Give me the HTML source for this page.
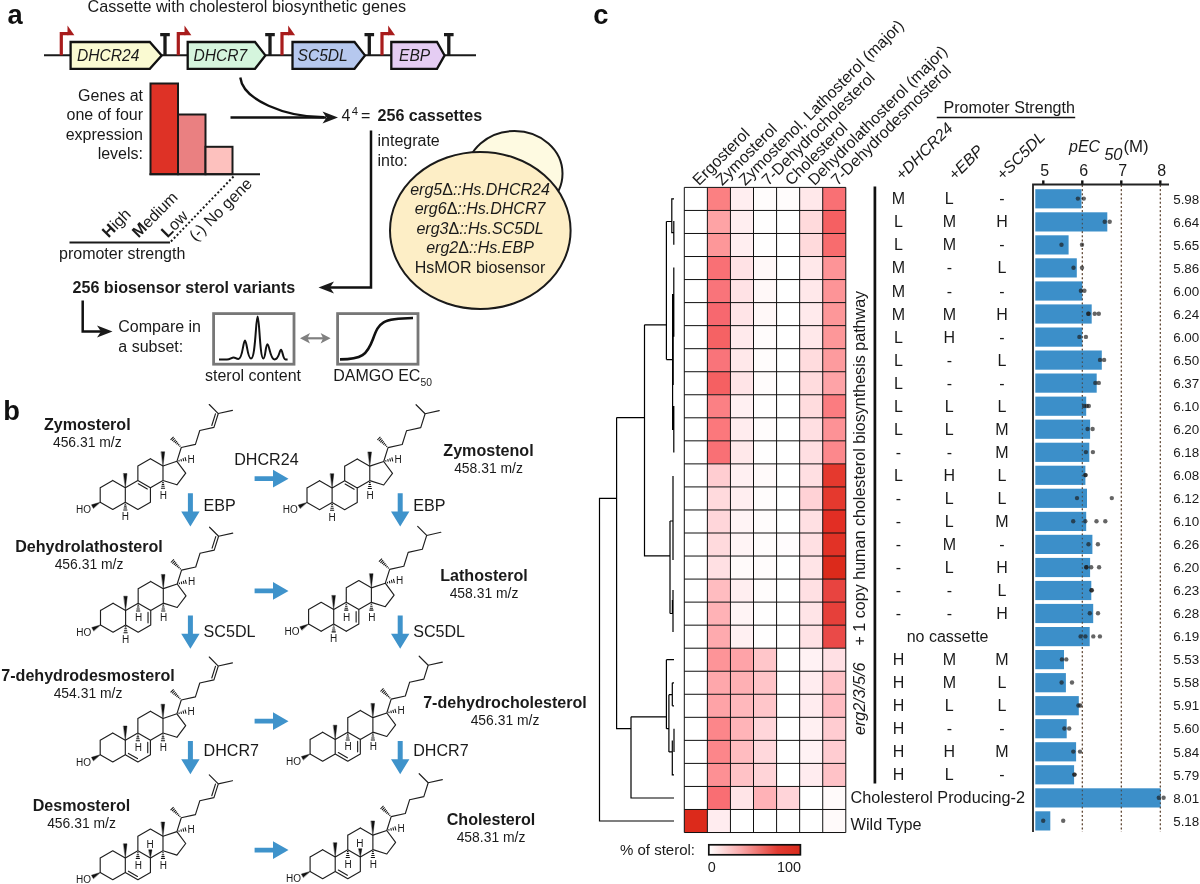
<!DOCTYPE html>
<html lang="en"><head><meta charset="utf-8"><title>Sterol biosensor figure</title>
<style>
html,body{margin:0;padding:0;background:#fff;}
body{width:1200px;height:884px;overflow:hidden;font-family:"Liberation Sans", sans-serif;}
svg{display:block;font-family:"Liberation Sans", sans-serif;}
</style></head><body>
<svg width="1200" height="884" viewBox="0 0 1200 884">
<rect width="1200" height="884" fill="#ffffff"/>
<g id="panel-a">
<text x="7.6" y="24.3" font-size="27.3" font-weight="bold" fill="#111">a</text>
<text x="87.5" y="12.4" font-size="16.2" fill="#1a1a1a">Cassette with cholesterol biosynthetic genes</text>
<line x1="44" y1="55.3" x2="476" y2="55.3" stroke="#1a1a1a" stroke-width="1.9"/>
<path d="M61.3 55.3 V33.6 H68.3" fill="none" stroke="#a81c1c" stroke-width="3.2"/>
<path d="M67.5 25.6 L74.39999999999999 35.2 L67.5 35.2 Z" fill="#a81c1c"/>
<path d="M178.3 55.3 V33.6 H185.3" fill="none" stroke="#a81c1c" stroke-width="3.2"/>
<path d="M184.5 25.6 L191.4 35.2 L184.5 35.2 Z" fill="#a81c1c"/>
<path d="M282 55.3 V33.6 H289" fill="none" stroke="#a81c1c" stroke-width="3.2"/>
<path d="M288.2 25.6 L295.1 35.2 L288.2 35.2 Z" fill="#a81c1c"/>
<path d="M382 55.3 V33.6 H389" fill="none" stroke="#a81c1c" stroke-width="3.2"/>
<path d="M388.2 25.6 L395.1 35.2 L388.2 35.2 Z" fill="#a81c1c"/>
<path d="M165 55.3 V34.6 M160.2 34.6 H169.8" fill="none" stroke="#1a1a1a" stroke-width="3.3"/>
<path d="M270 55.3 V34.6 M265.2 34.6 H274.8" fill="none" stroke="#1a1a1a" stroke-width="3.3"/>
<path d="M369.3 55.3 V34.6 M364.5 34.6 H374.1" fill="none" stroke="#1a1a1a" stroke-width="3.3"/>
<path d="M448.8 55.3 V34.6 M444.0 34.6 H453.6" fill="none" stroke="#1a1a1a" stroke-width="3.3"/>
<path d="M70.6 42 H149.8 L161.7 55.4 L149.8 68.8 H70.6 Z" fill="#fafad2" stroke="#111" stroke-width="2.3" stroke-linejoin="miter"/>
<text x="77" y="60.8" font-size="15.6" font-style="italic" fill="#1a1a1a">DHCR24</text>
<path d="M187.7 42 H255 L265.4 55.4 L255 68.8 H187.7 Z" fill="#d5f5dd" stroke="#111" stroke-width="2.3" stroke-linejoin="miter"/>
<text x="193.5" y="60.8" font-size="15.6" font-style="italic" fill="#1a1a1a">DHCR7</text>
<path d="M292.5 42 H354.5 L365 55.4 L354.5 68.8 H292.5 Z" fill="#b6c8ee" stroke="#111" stroke-width="2.3" stroke-linejoin="miter"/>
<text x="297.5" y="60.8" font-size="15.6" font-style="italic" fill="#1a1a1a">SC5DL</text>
<path d="M391.3 42 H437 L444.6 55.4 L437 68.8 H391.3 Z" fill="#e5cdf3" stroke="#111" stroke-width="2.3" stroke-linejoin="miter"/>
<text x="399" y="60.8" font-size="15.6" font-style="italic" fill="#1a1a1a">EBP</text>
<rect x="150.5" y="83.5" width="27.5" height="90.7" fill="#de3226" stroke="#1a1a1a" stroke-width="2"/>
<rect x="178" y="114.5" width="27.5" height="59.7" fill="#ea8081" stroke="#1a1a1a" stroke-width="2"/>
<rect x="205.5" y="146.8" width="27" height="27.4" fill="#fdc1be" stroke="#1a1a1a" stroke-width="2"/>
<line x1="149.5" y1="174.2" x2="260" y2="174.2" stroke="#1a1a1a" stroke-width="2"/>
<text x="143" y="100.5" font-size="16" text-anchor="end" fill="#1a1a1a">Genes at</text>
<text x="143" y="120.1" font-size="16" text-anchor="end" fill="#1a1a1a">one of four</text>
<text x="143" y="139.7" font-size="16" text-anchor="end" fill="#1a1a1a">expression</text>
<text x="143" y="159.3" font-size="16" text-anchor="end" fill="#1a1a1a">levels:</text>
<line x1="233.5" y1="176.5" x2="170" y2="242.5" stroke="#1a1a1a" stroke-width="2" stroke-dasharray="2 2.2"/>
<line x1="69.5" y1="242.5" x2="170" y2="242.5" stroke="#1a1a1a" stroke-width="2"/>
<text x="59" y="259" font-size="16" fill="#1a1a1a">promoter strength</text>
<text x="108.5" y="238.5" font-size="16" fill="#1a1a1a" transform="rotate(-45 108.5 238.5)"><tspan font-weight="bold">H</tspan>igh</text>
<text x="138.5" y="238.5" font-size="16" fill="#1a1a1a" transform="rotate(-45 138.5 238.5)"><tspan font-weight="bold">M</tspan>edium</text>
<text x="167.5" y="238.5" font-size="16" fill="#1a1a1a" transform="rotate(-45 167.5 238.5)"><tspan font-weight="bold">L</tspan>ow</text>
<text x="195.8" y="242" font-size="16" fill="#1a1a1a" transform="rotate(-45 195.8 242)">(-) No gene</text>
<path d="M230.5 117.5 H326" fill="none" stroke="#111" stroke-width="2.4"/>
<path d="M240.3 77.5 C243 100 285 117 324 117.3" fill="none" stroke="#111" stroke-width="2.4"/>
<path d="M338 117.5 L322.5 111.5 L326.5 117.5 L322.5 123.5 Z" fill="#1a1a1a"/>
<text x="341.5" y="121" font-size="16" fill="#1a1a1a">4<tspan font-size="11.3" dx="1.3" dy="-6.3">4</tspan><tspan dy="6.3" dx="3">=</tspan></text>
<text x="377.5" y="121" font-size="16.1" font-weight="bold" fill="#1a1a1a">256 cassettes</text>
<path d="M371 130.5 V287.5 H330" fill="none" stroke="#111" stroke-width="2.5"/>
<path d="M318.5 287.5 L334 281.5 L330 287.5 L334 293.5 Z" fill="#1a1a1a"/>
<text x="377.5" y="145.8" font-size="16" fill="#1a1a1a">integrate</text>
<text x="377.5" y="165.8" font-size="16" fill="#1a1a1a">into:</text>
<ellipse cx="514.5" cy="173.5" rx="48" ry="42.5" fill="#fefae1" stroke="#1a1a1a" stroke-width="2"/>
<ellipse cx="480.3" cy="230.5" rx="90.3" ry="78.5" fill="#fdeec6" stroke="#1a1a1a" stroke-width="2"/>
<text x="480" y="194.8" font-size="16" text-anchor="middle" fill="#1a1a1a" font-style="italic">erg5<tspan font-style="normal">Δ</tspan>::Hs.DHCR24</text>
<text x="480" y="214.3" font-size="16" text-anchor="middle" fill="#1a1a1a" font-style="italic">erg6<tspan font-style="normal">Δ</tspan>::Hs.DHCR7</text>
<text x="480" y="233.8" font-size="16" text-anchor="middle" fill="#1a1a1a" font-style="italic">erg3<tspan font-style="normal">Δ</tspan>::Hs.SC5DL</text>
<text x="480" y="253.3" font-size="16" text-anchor="middle" fill="#1a1a1a" font-style="italic">erg2<tspan font-style="normal">Δ</tspan>::Hs.EBP</text>
<text x="480" y="272.8" font-size="16" text-anchor="middle" fill="#1a1a1a">HsMOR biosensor</text>
<text x="72.5" y="293" font-size="16.1" font-weight="bold" fill="#1a1a1a">256 biosensor sterol variants</text>
<path d="M82.7 300.5 V331.5 H101" fill="none" stroke="#111" stroke-width="2.5"/>
<path d="M112.5 331.5 L97 325.5 L101 331.5 L97 337.5 Z" fill="#1a1a1a"/>
<text x="118.3" y="332" font-size="16" fill="#1a1a1a">Compare in</text>
<text x="118.3" y="352" font-size="16" fill="#1a1a1a">a subset:</text>
<rect x="213.6" y="313.6" width="80.4" height="50.6" fill="#fff" stroke="#777" stroke-width="2.8"/>
<rect x="337.6" y="313.6" width="80.4" height="50.6" fill="#fff" stroke="#777" stroke-width="2.8"/>
<path d="M219 359.6 H227 C230 359.6 231.5 357.4 233.6 357.4 C235.5 357.4 236 359 238.5 359 C242.6 359 243.2 340.4 245 340.4 C246.8 340.4 247.4 358.6 251 358.6 C255.6 358.6 255.8 316.6 257.6 316.6 C259.4 316.6 259.8 358.6 263.4 358.6 C265.5 358.6 265.6 344.2 267.4 344.2 C269.4 344.2 270 359.4 274.5 359.4 C279.2 359.4 279.4 349.8 281 349.8 C282.6 349.8 282.9 359.4 285.5 359.4 H287.6" fill="none" stroke="#111" stroke-width="2" stroke-linejoin="round"/>
<path d="M340 359.4 C362 359.4 367 355 373 339 C379 322 382 318.4 413 318" fill="none" stroke="#111" stroke-width="2.6"/>
<path d="M304 338.3 H326" stroke="#808080" stroke-width="2.2" fill="none"/>
<path d="M300 338.3 L310 333 L307.5 338.3 L310 343.6 Z M330.6 338.3 L320.6 333 L323.1 338.3 L320.6 343.6 Z" fill="#808080"/>
<text x="205" y="381" font-size="16" fill="#1a1a1a">sterol content</text>
<text x="333.3" y="381" font-size="16" fill="#1a1a1a">DAMGO EC<tspan font-size="10.3" dy="5.2">50</tspan></text>
</g>
<g id="panel-b">
<text x="3.2" y="419.5" font-size="27.3" font-weight="bold" fill="#111">b</text>
<g transform="translate(100.2 502.2)" stroke="#1f1f1f" stroke-width="1.15" stroke-linecap="round" fill="none"><path d="M0.00 0.00L0.00 -14.50M0.00 -14.50L12.56 -21.75M12.56 -21.75L25.11 -14.50M25.11 -14.50L25.11 0.00M25.11 0.00L12.56 7.25M12.56 7.25L0.00 0.00M25.11 -14.50L37.67 -21.75M37.67 -21.75L50.23 -14.50M50.23 -14.50L50.23 0.00M50.23 0.00L37.67 7.25M37.67 7.25L25.11 0.00M37.67 -21.75L37.67 -36.25M37.67 -36.25L50.23 -43.50M50.23 -43.50L62.79 -36.25M62.79 -36.25L62.79 -21.75M62.79 -21.75L50.23 -14.50M62.79 -36.25L76.70 -40.90M76.70 -40.90L85.50 -29.00M85.50 -29.00L76.70 -17.40M76.70 -17.40L62.79 -21.75M76.70 -40.90L81.06 -54.73M81.06 -54.73L95.22 -57.87M95.22 -57.87L99.58 -71.70M99.58 -71.70L113.73 -74.83M113.73 -74.83L118.09 -88.66M118.09 -88.66L109.08 -97.67M118.09 -88.66L132.25 -91.80M38.08 -18.40L47.12 -13.18M111.60 -76.72L115.26 -88.34"/><path d="M25.11 -14.50L26.81 -28.70L23.41 -28.70Z" fill="#111" stroke="#111" stroke-width="0.4" stroke-linejoin="round"/><path d="M62.79 -36.25L64.49 -50.45L61.09 -50.45Z" fill="#111" stroke="#111" stroke-width="0.4" stroke-linejoin="round"/><path d="M0.00 0.00L-8.72 2.64L-6.88 5.96Z" fill="#111" stroke="#111" stroke-width="0.4" stroke-linejoin="round"/><path d="M80.18 -56.47L79.32 -55.61M79.04 -57.97L77.82 -56.74M77.91 -59.46L76.33 -57.88M76.78 -60.96L74.83 -59.01M75.65 -62.45L73.34 -60.14M74.52 -63.95L71.84 -61.27M73.39 -65.44L70.35 -62.40" stroke="#111" stroke-width="1.05" stroke-linecap="butt"/><path d="M79.04 -40.70L78.66 -42.20M81.30 -40.83L80.70 -43.17M83.55 -40.97L82.75 -44.13M85.81 -41.10L84.79 -45.10" stroke="#111" stroke-width="1.05" stroke-linecap="butt"/><text x="91.00" y="-39.70" font-size="10" text-anchor="middle" fill="#1a1a1a" stroke="none">H</text><path d="M24.34 1.95L25.89 1.95M23.91 3.90L26.32 3.90M23.48 5.85L26.75 5.85M23.05 7.80L27.17 7.80" stroke="#111" stroke-width="1.05" stroke-linecap="butt"/><text x="25.11" y="18.30" font-size="10" text-anchor="middle" fill="#1a1a1a" stroke="none">H</text><path d="M62.01 -19.80L63.56 -19.80M61.58 -17.85L63.99 -17.85M61.15 -15.90L64.42 -15.90M60.73 -13.95L64.85 -13.95" stroke="#111" stroke-width="1.05" stroke-linecap="butt"/><text x="63.19" y="-3.45" font-size="10" text-anchor="middle" fill="#1a1a1a" stroke="none">H</text><text x="-9.2" y="10.9" font-size="10" text-anchor="end" fill="#1a1a1a" stroke="none">HO</text></g>
<g transform="translate(307.0 502.4)" stroke="#1f1f1f" stroke-width="1.15" stroke-linecap="round" fill="none"><path d="M0.00 0.00L0.00 -14.50M0.00 -14.50L12.56 -21.75M12.56 -21.75L25.11 -14.50M25.11 -14.50L25.11 0.00M25.11 0.00L12.56 7.25M12.56 7.25L0.00 0.00M25.11 -14.50L37.67 -21.75M37.67 -21.75L50.23 -14.50M50.23 -14.50L50.23 0.00M50.23 0.00L37.67 7.25M37.67 7.25L25.11 0.00M37.67 -21.75L37.67 -36.25M37.67 -36.25L50.23 -43.50M50.23 -43.50L62.79 -36.25M62.79 -36.25L62.79 -21.75M62.79 -21.75L50.23 -14.50M62.79 -36.25L76.70 -40.90M76.70 -40.90L85.50 -29.00M85.50 -29.00L76.70 -17.40M76.70 -17.40L62.79 -21.75M76.70 -40.90L81.06 -54.73M81.06 -54.73L95.22 -57.87M95.22 -57.87L99.58 -71.70M99.58 -71.70L113.73 -74.83M113.73 -74.83L118.09 -88.66M118.09 -88.66L109.08 -97.67M118.09 -88.66L132.25 -91.80M38.08 -18.40L47.12 -13.18"/><path d="M25.11 -14.50L26.81 -28.70L23.41 -28.70Z" fill="#111" stroke="#111" stroke-width="0.4" stroke-linejoin="round"/><path d="M62.79 -36.25L64.49 -50.45L61.09 -50.45Z" fill="#111" stroke="#111" stroke-width="0.4" stroke-linejoin="round"/><path d="M0.00 0.00L-8.72 2.64L-6.88 5.96Z" fill="#111" stroke="#111" stroke-width="0.4" stroke-linejoin="round"/><path d="M80.18 -56.47L79.32 -55.61M79.04 -57.97L77.82 -56.74M77.91 -59.46L76.33 -57.88M76.78 -60.96L74.83 -59.01M75.65 -62.45L73.34 -60.14M74.52 -63.95L71.84 -61.27M73.39 -65.44L70.35 -62.40" stroke="#111" stroke-width="1.05" stroke-linecap="butt"/><path d="M79.04 -40.70L78.66 -42.20M81.30 -40.83L80.70 -43.17M83.55 -40.97L82.75 -44.13M85.81 -41.10L84.79 -45.10" stroke="#111" stroke-width="1.05" stroke-linecap="butt"/><text x="91.00" y="-39.70" font-size="10" text-anchor="middle" fill="#1a1a1a" stroke="none">H</text><path d="M24.34 1.95L25.89 1.95M23.91 3.90L26.32 3.90M23.48 5.85L26.75 5.85M23.05 7.80L27.17 7.80" stroke="#111" stroke-width="1.05" stroke-linecap="butt"/><text x="25.11" y="18.30" font-size="10" text-anchor="middle" fill="#1a1a1a" stroke="none">H</text><path d="M62.01 -19.80L63.56 -19.80M61.58 -17.85L63.99 -17.85M61.15 -15.90L64.42 -15.90M60.73 -13.95L64.85 -13.95" stroke="#111" stroke-width="1.05" stroke-linecap="butt"/><text x="63.19" y="-3.45" font-size="10" text-anchor="middle" fill="#1a1a1a" stroke="none">H</text><text x="-9.2" y="10.9" font-size="10" text-anchor="end" fill="#1a1a1a" stroke="none">HO</text></g>
<g transform="translate(100.5 624.9)" stroke="#1f1f1f" stroke-width="1.15" stroke-linecap="round" fill="none"><path d="M0.00 0.00L0.00 -14.50M0.00 -14.50L12.56 -21.75M12.56 -21.75L25.11 -14.50M25.11 -14.50L25.11 0.00M25.11 0.00L12.56 7.25M12.56 7.25L0.00 0.00M25.11 -14.50L37.67 -21.75M37.67 -21.75L50.23 -14.50M50.23 -14.50L50.23 0.00M50.23 0.00L37.67 7.25M37.67 7.25L25.11 0.00M37.67 -21.75L37.67 -36.25M37.67 -36.25L50.23 -43.50M50.23 -43.50L62.79 -36.25M62.79 -36.25L62.79 -21.75M62.79 -21.75L50.23 -14.50M62.79 -36.25L76.70 -40.90M76.70 -40.90L85.50 -29.00M85.50 -29.00L76.70 -17.40M76.70 -17.40L62.79 -21.75M76.70 -40.90L81.06 -54.73M81.06 -54.73L95.22 -57.87M95.22 -57.87L99.58 -71.70M99.58 -71.70L113.73 -74.83M113.73 -74.83L118.09 -88.66M118.09 -88.66L109.08 -97.67M118.09 -88.66L132.25 -91.80M47.53 -12.47L47.53 -2.03M111.60 -76.72L115.26 -88.34"/><path d="M25.11 -14.50L26.81 -28.70L23.41 -28.70Z" fill="#111" stroke="#111" stroke-width="0.4" stroke-linejoin="round"/><path d="M62.79 -36.25L64.49 -50.45L61.09 -50.45Z" fill="#111" stroke="#111" stroke-width="0.4" stroke-linejoin="round"/><path d="M0.00 0.00L-8.72 2.64L-6.88 5.96Z" fill="#111" stroke="#111" stroke-width="0.4" stroke-linejoin="round"/><path d="M80.18 -56.47L79.32 -55.61M79.04 -57.97L77.82 -56.74M77.91 -59.46L76.33 -57.88M76.78 -60.96L74.83 -59.01M75.65 -62.45L73.34 -60.14M74.52 -63.95L71.84 -61.27M73.39 -65.44L70.35 -62.40" stroke="#111" stroke-width="1.05" stroke-linecap="butt"/><path d="M79.04 -40.70L78.66 -42.20M81.30 -40.83L80.70 -43.17M83.55 -40.97L82.75 -44.13M85.81 -41.10L84.79 -45.10" stroke="#111" stroke-width="1.05" stroke-linecap="butt"/><text x="91.00" y="-39.70" font-size="10" text-anchor="middle" fill="#1a1a1a" stroke="none">H</text><path d="M24.34 1.95L25.89 1.95M23.91 3.90L26.32 3.90M23.48 5.85L26.75 5.85M23.05 7.80L27.17 7.80" stroke="#111" stroke-width="1.05" stroke-linecap="butt"/><text x="25.11" y="18.30" font-size="10" text-anchor="middle" fill="#1a1a1a" stroke="none">H</text><path d="M36.89 -19.80L38.45 -19.80M36.47 -17.85L38.88 -17.85M36.04 -15.90L39.30 -15.90M35.61 -13.95L39.73 -13.95" stroke="#111" stroke-width="1.05" stroke-linecap="butt"/><text x="38.07" y="-3.45" font-size="10" text-anchor="middle" fill="#1a1a1a" stroke="none">H</text><path d="M62.01 -19.80L63.56 -19.80M61.58 -17.85L63.99 -17.85M61.15 -15.90L64.42 -15.90M60.73 -13.95L64.85 -13.95" stroke="#111" stroke-width="1.05" stroke-linecap="butt"/><text x="63.19" y="-3.45" font-size="10" text-anchor="middle" fill="#1a1a1a" stroke="none">H</text><text x="-9.2" y="10.9" font-size="10" text-anchor="end" fill="#1a1a1a" stroke="none">HO</text></g>
<g transform="translate(308.6 624.1)" stroke="#1f1f1f" stroke-width="1.15" stroke-linecap="round" fill="none"><path d="M0.00 0.00L0.00 -14.50M0.00 -14.50L12.56 -21.75M12.56 -21.75L25.11 -14.50M25.11 -14.50L25.11 0.00M25.11 0.00L12.56 7.25M12.56 7.25L0.00 0.00M25.11 -14.50L37.67 -21.75M37.67 -21.75L50.23 -14.50M50.23 -14.50L50.23 0.00M50.23 0.00L37.67 7.25M37.67 7.25L25.11 0.00M37.67 -21.75L37.67 -36.25M37.67 -36.25L50.23 -43.50M50.23 -43.50L62.79 -36.25M62.79 -36.25L62.79 -21.75M62.79 -21.75L50.23 -14.50M62.79 -36.25L76.70 -40.90M76.70 -40.90L85.50 -29.00M85.50 -29.00L76.70 -17.40M76.70 -17.40L62.79 -21.75M76.70 -40.90L81.06 -54.73M81.06 -54.73L95.22 -57.87M95.22 -57.87L99.58 -71.70M99.58 -71.70L113.73 -74.83M113.73 -74.83L118.09 -88.66M118.09 -88.66L109.08 -97.67M118.09 -88.66L132.25 -91.80M47.53 -12.47L47.53 -2.03"/><path d="M25.11 -14.50L26.81 -28.70L23.41 -28.70Z" fill="#111" stroke="#111" stroke-width="0.4" stroke-linejoin="round"/><path d="M62.79 -36.25L64.49 -50.45L61.09 -50.45Z" fill="#111" stroke="#111" stroke-width="0.4" stroke-linejoin="round"/><path d="M0.00 0.00L-8.72 2.64L-6.88 5.96Z" fill="#111" stroke="#111" stroke-width="0.4" stroke-linejoin="round"/><path d="M80.18 -56.47L79.32 -55.61M79.04 -57.97L77.82 -56.74M77.91 -59.46L76.33 -57.88M76.78 -60.96L74.83 -59.01M75.65 -62.45L73.34 -60.14M74.52 -63.95L71.84 -61.27M73.39 -65.44L70.35 -62.40" stroke="#111" stroke-width="1.05" stroke-linecap="butt"/><path d="M79.04 -40.70L78.66 -42.20M81.30 -40.83L80.70 -43.17M83.55 -40.97L82.75 -44.13M85.81 -41.10L84.79 -45.10" stroke="#111" stroke-width="1.05" stroke-linecap="butt"/><text x="91.00" y="-39.70" font-size="10" text-anchor="middle" fill="#1a1a1a" stroke="none">H</text><path d="M24.34 1.95L25.89 1.95M23.91 3.90L26.32 3.90M23.48 5.85L26.75 5.85M23.05 7.80L27.17 7.80" stroke="#111" stroke-width="1.05" stroke-linecap="butt"/><text x="25.11" y="18.30" font-size="10" text-anchor="middle" fill="#1a1a1a" stroke="none">H</text><path d="M36.89 -19.80L38.45 -19.80M36.47 -17.85L38.88 -17.85M36.04 -15.90L39.30 -15.90M35.61 -13.95L39.73 -13.95" stroke="#111" stroke-width="1.05" stroke-linecap="butt"/><text x="38.07" y="-3.45" font-size="10" text-anchor="middle" fill="#1a1a1a" stroke="none">H</text><path d="M62.01 -19.80L63.56 -19.80M61.58 -17.85L63.99 -17.85M61.15 -15.90L64.42 -15.90M60.73 -13.95L64.85 -13.95" stroke="#111" stroke-width="1.05" stroke-linecap="butt"/><text x="63.19" y="-3.45" font-size="10" text-anchor="middle" fill="#1a1a1a" stroke="none">H</text><text x="-9.2" y="10.9" font-size="10" text-anchor="end" fill="#1a1a1a" stroke="none">HO</text></g>
<g transform="translate(100.2 754.7)" stroke="#1f1f1f" stroke-width="1.15" stroke-linecap="round" fill="none"><path d="M0.00 0.00L0.00 -14.50M0.00 -14.50L12.56 -21.75M12.56 -21.75L25.11 -14.50M25.11 -14.50L25.11 0.00M25.11 0.00L12.56 7.25M12.56 7.25L0.00 0.00M25.11 -14.50L37.67 -21.75M37.67 -21.75L50.23 -14.50M50.23 -14.50L50.23 0.00M50.23 0.00L37.67 7.25M37.67 7.25L25.11 0.00M37.67 -21.75L37.67 -36.25M37.67 -36.25L50.23 -43.50M50.23 -43.50L62.79 -36.25M62.79 -36.25L62.79 -21.75M62.79 -21.75L50.23 -14.50M62.79 -36.25L76.70 -40.90M76.70 -40.90L85.50 -29.00M85.50 -29.00L76.70 -17.40M76.70 -17.40L62.79 -21.75M76.70 -40.90L81.06 -54.73M81.06 -54.73L95.22 -57.87M95.22 -57.87L99.58 -71.70M99.58 -71.70L113.73 -74.83M113.73 -74.83L118.09 -88.66M118.09 -88.66L109.08 -97.67M118.09 -88.66L132.25 -91.80M28.22 -1.32L37.26 3.90M47.53 -12.47L47.53 -2.03M111.60 -76.72L115.26 -88.34"/><path d="M25.11 -14.50L26.81 -28.70L23.41 -28.70Z" fill="#111" stroke="#111" stroke-width="0.4" stroke-linejoin="round"/><path d="M62.79 -36.25L64.49 -50.45L61.09 -50.45Z" fill="#111" stroke="#111" stroke-width="0.4" stroke-linejoin="round"/><path d="M0.00 0.00L-8.72 2.64L-6.88 5.96Z" fill="#111" stroke="#111" stroke-width="0.4" stroke-linejoin="round"/><path d="M80.18 -56.47L79.32 -55.61M79.04 -57.97L77.82 -56.74M77.91 -59.46L76.33 -57.88M76.78 -60.96L74.83 -59.01M75.65 -62.45L73.34 -60.14M74.52 -63.95L71.84 -61.27M73.39 -65.44L70.35 -62.40" stroke="#111" stroke-width="1.05" stroke-linecap="butt"/><path d="M79.04 -40.70L78.66 -42.20M81.30 -40.83L80.70 -43.17M83.55 -40.97L82.75 -44.13M85.81 -41.10L84.79 -45.10" stroke="#111" stroke-width="1.05" stroke-linecap="butt"/><text x="91.00" y="-39.70" font-size="10" text-anchor="middle" fill="#1a1a1a" stroke="none">H</text><path d="M36.89 -19.80L38.45 -19.80M36.47 -17.85L38.88 -17.85M36.04 -15.90L39.30 -15.90M35.61 -13.95L39.73 -13.95" stroke="#111" stroke-width="1.05" stroke-linecap="butt"/><text x="38.07" y="-3.45" font-size="10" text-anchor="middle" fill="#1a1a1a" stroke="none">H</text><path d="M62.01 -19.80L63.56 -19.80M61.58 -17.85L63.99 -17.85M61.15 -15.90L64.42 -15.90M60.73 -13.95L64.85 -13.95" stroke="#111" stroke-width="1.05" stroke-linecap="butt"/><text x="63.19" y="-3.45" font-size="10" text-anchor="middle" fill="#1a1a1a" stroke="none">H</text><text x="-9.2" y="10.9" font-size="10" text-anchor="end" fill="#1a1a1a" stroke="none">HO</text></g>
<g transform="translate(310.1 753.9)" stroke="#1f1f1f" stroke-width="1.15" stroke-linecap="round" fill="none"><path d="M0.00 0.00L0.00 -14.50M0.00 -14.50L12.56 -21.75M12.56 -21.75L25.11 -14.50M25.11 -14.50L25.11 0.00M25.11 0.00L12.56 7.25M12.56 7.25L0.00 0.00M25.11 -14.50L37.67 -21.75M37.67 -21.75L50.23 -14.50M50.23 -14.50L50.23 0.00M50.23 0.00L37.67 7.25M37.67 7.25L25.11 0.00M37.67 -21.75L37.67 -36.25M37.67 -36.25L50.23 -43.50M50.23 -43.50L62.79 -36.25M62.79 -36.25L62.79 -21.75M62.79 -21.75L50.23 -14.50M62.79 -36.25L76.70 -40.90M76.70 -40.90L85.50 -29.00M85.50 -29.00L76.70 -17.40M76.70 -17.40L62.79 -21.75M76.70 -40.90L81.06 -54.73M81.06 -54.73L95.22 -57.87M95.22 -57.87L99.58 -71.70M99.58 -71.70L113.73 -74.83M113.73 -74.83L118.09 -88.66M118.09 -88.66L109.08 -97.67M118.09 -88.66L132.25 -91.80M28.22 -1.32L37.26 3.90M47.53 -12.47L47.53 -2.03"/><path d="M25.11 -14.50L26.81 -28.70L23.41 -28.70Z" fill="#111" stroke="#111" stroke-width="0.4" stroke-linejoin="round"/><path d="M62.79 -36.25L64.49 -50.45L61.09 -50.45Z" fill="#111" stroke="#111" stroke-width="0.4" stroke-linejoin="round"/><path d="M0.00 0.00L-8.72 2.64L-6.88 5.96Z" fill="#111" stroke="#111" stroke-width="0.4" stroke-linejoin="round"/><path d="M80.18 -56.47L79.32 -55.61M79.04 -57.97L77.82 -56.74M77.91 -59.46L76.33 -57.88M76.78 -60.96L74.83 -59.01M75.65 -62.45L73.34 -60.14M74.52 -63.95L71.84 -61.27M73.39 -65.44L70.35 -62.40" stroke="#111" stroke-width="1.05" stroke-linecap="butt"/><path d="M79.04 -40.70L78.66 -42.20M81.30 -40.83L80.70 -43.17M83.55 -40.97L82.75 -44.13M85.81 -41.10L84.79 -45.10" stroke="#111" stroke-width="1.05" stroke-linecap="butt"/><text x="91.00" y="-39.70" font-size="10" text-anchor="middle" fill="#1a1a1a" stroke="none">H</text><path d="M36.89 -19.80L38.45 -19.80M36.47 -17.85L38.88 -17.85M36.04 -15.90L39.30 -15.90M35.61 -13.95L39.73 -13.95" stroke="#111" stroke-width="1.05" stroke-linecap="butt"/><text x="38.07" y="-3.45" font-size="10" text-anchor="middle" fill="#1a1a1a" stroke="none">H</text><path d="M62.01 -19.80L63.56 -19.80M61.58 -17.85L63.99 -17.85M61.15 -15.90L64.42 -15.90M60.73 -13.95L64.85 -13.95" stroke="#111" stroke-width="1.05" stroke-linecap="butt"/><text x="63.19" y="-3.45" font-size="10" text-anchor="middle" fill="#1a1a1a" stroke="none">H</text><text x="-9.2" y="10.9" font-size="10" text-anchor="end" fill="#1a1a1a" stroke="none">HO</text></g>
<g transform="translate(100.2 872.5)" stroke="#1f1f1f" stroke-width="1.15" stroke-linecap="round" fill="none"><path d="M0.00 0.00L0.00 -14.50M0.00 -14.50L12.56 -21.75M12.56 -21.75L25.11 -14.50M25.11 -14.50L25.11 0.00M25.11 0.00L12.56 7.25M12.56 7.25L0.00 0.00M25.11 -14.50L37.67 -21.75M37.67 -21.75L50.23 -14.50M50.23 -14.50L50.23 0.00M50.23 0.00L37.67 7.25M37.67 7.25L25.11 0.00M37.67 -21.75L37.67 -36.25M37.67 -36.25L50.23 -43.50M50.23 -43.50L62.79 -36.25M62.79 -36.25L62.79 -21.75M62.79 -21.75L50.23 -14.50M62.79 -36.25L76.70 -40.90M76.70 -40.90L85.50 -29.00M85.50 -29.00L76.70 -17.40M76.70 -17.40L62.79 -21.75M76.70 -40.90L81.06 -54.73M81.06 -54.73L95.22 -57.87M95.22 -57.87L99.58 -71.70M99.58 -71.70L113.73 -74.83M113.73 -74.83L118.09 -88.66M118.09 -88.66L109.08 -97.67M118.09 -88.66L132.25 -91.80M28.22 -1.32L37.26 3.90M111.60 -76.72L115.26 -88.34"/><path d="M25.11 -14.50L26.81 -28.70L23.41 -28.70Z" fill="#111" stroke="#111" stroke-width="0.4" stroke-linejoin="round"/><path d="M62.79 -36.25L64.49 -50.45L61.09 -50.45Z" fill="#111" stroke="#111" stroke-width="0.4" stroke-linejoin="round"/><path d="M0.00 0.00L-8.72 2.64L-6.88 5.96Z" fill="#111" stroke="#111" stroke-width="0.4" stroke-linejoin="round"/><path d="M80.18 -56.47L79.32 -55.61M79.04 -57.97L77.82 -56.74M77.91 -59.46L76.33 -57.88M76.78 -60.96L74.83 -59.01M75.65 -62.45L73.34 -60.14M74.52 -63.95L71.84 -61.27M73.39 -65.44L70.35 -62.40" stroke="#111" stroke-width="1.05" stroke-linecap="butt"/><path d="M79.04 -40.70L78.66 -42.20M81.30 -40.83L80.70 -43.17M83.55 -40.97L82.75 -44.13M85.81 -41.10L84.79 -45.10" stroke="#111" stroke-width="1.05" stroke-linecap="butt"/><text x="91.00" y="-39.70" font-size="10" text-anchor="middle" fill="#1a1a1a" stroke="none">H</text><path d="M36.89 -19.80L38.45 -19.80M36.47 -17.85L38.88 -17.85M36.04 -15.90L39.30 -15.90M35.61 -13.95L39.73 -13.95" stroke="#111" stroke-width="1.05" stroke-linecap="butt"/><text x="38.07" y="-3.45" font-size="10" text-anchor="middle" fill="#1a1a1a" stroke="none">H</text><path d="M62.01 -19.80L63.56 -19.80M61.58 -17.85L63.99 -17.85M61.15 -15.90L64.42 -15.90M60.73 -13.95L64.85 -13.95" stroke="#111" stroke-width="1.05" stroke-linecap="butt"/><text x="63.19" y="-3.45" font-size="10" text-anchor="middle" fill="#1a1a1a" stroke="none">H</text><path d="M50.23 -14.50L51.83 -22.70L48.63 -22.70Z" fill="#111" stroke="#111" stroke-width="0.4" stroke-linejoin="round"/><text x="49.83" y="-24.80" font-size="10" text-anchor="middle" fill="#1a1a1a" stroke="none">H</text><text x="-9.2" y="10.9" font-size="10" text-anchor="end" fill="#1a1a1a" stroke="none">HO</text></g>
<g transform="translate(310.1 871.4)" stroke="#1f1f1f" stroke-width="1.15" stroke-linecap="round" fill="none"><path d="M0.00 0.00L0.00 -14.50M0.00 -14.50L12.56 -21.75M12.56 -21.75L25.11 -14.50M25.11 -14.50L25.11 0.00M25.11 0.00L12.56 7.25M12.56 7.25L0.00 0.00M25.11 -14.50L37.67 -21.75M37.67 -21.75L50.23 -14.50M50.23 -14.50L50.23 0.00M50.23 0.00L37.67 7.25M37.67 7.25L25.11 0.00M37.67 -21.75L37.67 -36.25M37.67 -36.25L50.23 -43.50M50.23 -43.50L62.79 -36.25M62.79 -36.25L62.79 -21.75M62.79 -21.75L50.23 -14.50M62.79 -36.25L76.70 -40.90M76.70 -40.90L85.50 -29.00M85.50 -29.00L76.70 -17.40M76.70 -17.40L62.79 -21.75M76.70 -40.90L81.06 -54.73M81.06 -54.73L95.22 -57.87M95.22 -57.87L99.58 -71.70M99.58 -71.70L113.73 -74.83M113.73 -74.83L118.09 -88.66M118.09 -88.66L109.08 -97.67M118.09 -88.66L132.25 -91.80M28.22 -1.32L37.26 3.90"/><path d="M25.11 -14.50L26.81 -28.70L23.41 -28.70Z" fill="#111" stroke="#111" stroke-width="0.4" stroke-linejoin="round"/><path d="M62.79 -36.25L64.49 -50.45L61.09 -50.45Z" fill="#111" stroke="#111" stroke-width="0.4" stroke-linejoin="round"/><path d="M0.00 0.00L-8.72 2.64L-6.88 5.96Z" fill="#111" stroke="#111" stroke-width="0.4" stroke-linejoin="round"/><path d="M80.18 -56.47L79.32 -55.61M79.04 -57.97L77.82 -56.74M77.91 -59.46L76.33 -57.88M76.78 -60.96L74.83 -59.01M75.65 -62.45L73.34 -60.14M74.52 -63.95L71.84 -61.27M73.39 -65.44L70.35 -62.40" stroke="#111" stroke-width="1.05" stroke-linecap="butt"/><path d="M79.04 -40.70L78.66 -42.20M81.30 -40.83L80.70 -43.17M83.55 -40.97L82.75 -44.13M85.81 -41.10L84.79 -45.10" stroke="#111" stroke-width="1.05" stroke-linecap="butt"/><text x="91.00" y="-39.70" font-size="10" text-anchor="middle" fill="#1a1a1a" stroke="none">H</text><path d="M36.89 -19.80L38.45 -19.80M36.47 -17.85L38.88 -17.85M36.04 -15.90L39.30 -15.90M35.61 -13.95L39.73 -13.95" stroke="#111" stroke-width="1.05" stroke-linecap="butt"/><text x="38.07" y="-3.45" font-size="10" text-anchor="middle" fill="#1a1a1a" stroke="none">H</text><path d="M62.01 -19.80L63.56 -19.80M61.58 -17.85L63.99 -17.85M61.15 -15.90L64.42 -15.90M60.73 -13.95L64.85 -13.95" stroke="#111" stroke-width="1.05" stroke-linecap="butt"/><text x="63.19" y="-3.45" font-size="10" text-anchor="middle" fill="#1a1a1a" stroke="none">H</text><path d="M50.23 -14.50L51.83 -22.70L48.63 -22.70Z" fill="#111" stroke="#111" stroke-width="0.4" stroke-linejoin="round"/><text x="49.83" y="-24.80" font-size="10" text-anchor="middle" fill="#1a1a1a" stroke="none">H</text><text x="-9.2" y="10.9" font-size="10" text-anchor="end" fill="#1a1a1a" stroke="none">HO</text></g>
<text x="87.3" y="430" font-size="16.1" text-anchor="middle" font-weight="bold" fill="#1a1a1a">Zymosterol</text>
<text x="87.3" y="447.0" font-size="13.9" text-anchor="middle" fill="#1a1a1a">456.31 m/z</text>
<text x="488.5" y="456.3" font-size="16.1" text-anchor="middle" font-weight="bold" fill="#1a1a1a">Zymostenol</text>
<text x="488.5" y="473.3" font-size="13.9" text-anchor="middle" fill="#1a1a1a">458.31 m/z</text>
<text x="89" y="552" font-size="16.1" text-anchor="middle" font-weight="bold" fill="#1a1a1a">Dehydrolathosterol</text>
<text x="89" y="569.0" font-size="13.9" text-anchor="middle" fill="#1a1a1a">456.31 m/z</text>
<text x="484" y="580.5" font-size="16.1" text-anchor="middle" font-weight="bold" fill="#1a1a1a">Lathosterol</text>
<text x="484" y="597.5" font-size="13.9" text-anchor="middle" fill="#1a1a1a">458.31 m/z</text>
<text x="88" y="681.3" font-size="16.1" text-anchor="middle" font-weight="bold" fill="#1a1a1a">7-dehydrodesmosterol</text>
<text x="88" y="698.3" font-size="13.9" text-anchor="middle" fill="#1a1a1a">454.31 m/z</text>
<text x="505" y="708" font-size="16.1" text-anchor="middle" font-weight="bold" fill="#1a1a1a">7-dehydrocholesterol</text>
<text x="505" y="725.0" font-size="13.9" text-anchor="middle" fill="#1a1a1a">456.31 m/z</text>
<text x="81.5" y="811" font-size="16.1" text-anchor="middle" font-weight="bold" fill="#1a1a1a">Desmosterol</text>
<text x="81.5" y="828.0" font-size="13.9" text-anchor="middle" fill="#1a1a1a">456.31 m/z</text>
<text x="491" y="824.5" font-size="16.1" text-anchor="middle" font-weight="bold" fill="#1a1a1a">Cholesterol</text>
<text x="491" y="841.5" font-size="13.9" text-anchor="middle" fill="#1a1a1a">458.31 m/z</text>
<text x="234.2" y="465.3" font-size="16.1" fill="#1a1a1a">DHCR24</text>
<path d="M254.6 476.3 H273.0 V469.8 L288.5 478.7 L273.0 487.59999999999997 V481.09999999999997 H254.6 Z" fill="#3f93cb"/>
<path d="M254.6 588.5 H273.0 V582.0 L288.5 590.9 L273.0 599.8 V593.3 H254.6 Z" fill="#3f93cb"/>
<path d="M254.6 718.8000000000001 H273.0 V712.3000000000001 L288.5 721.2 L273.0 730.1 V723.6 H254.6 Z" fill="#3f93cb"/>
<path d="M254.6 847.7 H273.0 V841.2 L288.5 850.1 L273.0 859.0 V852.5 H254.6 Z" fill="#3f93cb"/>
<path d="M187.9 493.3 H192.9 V511.5 H199.6 L190.4 526.5 L181.20000000000002 511.5 H187.9 Z" fill="#3f93cb"/>
<path d="M397.7 493.3 H402.7 V511.5 H409.4 L400.2 526.5 L391.0 511.5 H397.7 Z" fill="#3f93cb"/>
<text x="203.6" y="510.5" font-size="16.1" fill="#1a1a1a">EBP</text>
<text x="413.2" y="510.5" font-size="16.1" fill="#1a1a1a">EBP</text>
<path d="M187.9 615.6 H192.9 V633.8000000000001 H199.6 L190.4 648.8000000000001 L181.20000000000002 633.8000000000001 H187.9 Z" fill="#3f93cb"/>
<path d="M397.7 615.6 H402.7 V633.8000000000001 H409.4 L400.2 648.8000000000001 L391.0 633.8000000000001 H397.7 Z" fill="#3f93cb"/>
<text x="203.6" y="636.9" font-size="16.1" fill="#1a1a1a">SC5DL</text>
<text x="413.2" y="636.9" font-size="16.1" fill="#1a1a1a">SC5DL</text>
<path d="M187.9 741.0 H192.9 V759.2 H199.6 L190.4 774.2 L181.20000000000002 759.2 H187.9 Z" fill="#3f93cb"/>
<path d="M397.7 741.0 H402.7 V759.2 H409.4 L400.2 774.2 L391.0 759.2 H397.7 Z" fill="#3f93cb"/>
<text x="203.6" y="755.6" font-size="16.1" fill="#1a1a1a">DHCR7</text>
<text x="413.2" y="755.6" font-size="16.1" fill="#1a1a1a">DHCR7</text>
</g>
<g id="panel-c">
<text x="593.2" y="24.4" font-size="27.3" font-weight="bold" fill="#111">c</text>
<rect x="707.37" y="187.40" width="23.07" height="23.04" fill="#fb8082"/>
<rect x="730.44" y="187.40" width="23.07" height="23.04" fill="#ffeef0"/>
<rect x="753.51" y="187.40" width="23.07" height="23.04" fill="#fffcfc"/>
<rect x="776.58" y="187.40" width="23.07" height="23.04" fill="#fffcfc"/>
<rect x="799.65" y="187.40" width="23.07" height="23.04" fill="#ffe8ea"/>
<rect x="822.72" y="187.40" width="23.07" height="23.04" fill="#f97074"/>
<rect x="707.37" y="210.44" width="23.07" height="23.04" fill="#fea3a5"/>
<rect x="730.44" y="210.44" width="23.07" height="23.04" fill="#ffeef0"/>
<rect x="753.51" y="210.44" width="23.07" height="23.04" fill="#fffefe"/>
<rect x="799.65" y="210.44" width="23.07" height="23.04" fill="#ffdadc"/>
<rect x="822.72" y="210.44" width="23.07" height="23.04" fill="#f56062"/>
<rect x="707.37" y="233.48" width="23.07" height="23.04" fill="#fd9799"/>
<rect x="730.44" y="233.48" width="23.07" height="23.04" fill="#ffeef0"/>
<rect x="753.51" y="233.48" width="23.07" height="23.04" fill="#fffefe"/>
<rect x="799.65" y="233.48" width="23.07" height="23.04" fill="#ffdadc"/>
<rect x="822.72" y="233.48" width="23.07" height="23.04" fill="#f86c6e"/>
<rect x="707.37" y="256.52" width="23.07" height="23.04" fill="#f97075"/>
<rect x="730.44" y="256.52" width="23.07" height="23.04" fill="#ffe2e5"/>
<rect x="753.51" y="256.52" width="23.07" height="23.04" fill="#fff8f8"/>
<rect x="799.65" y="256.52" width="23.07" height="23.04" fill="#ffe8ea"/>
<rect x="822.72" y="256.52" width="23.07" height="23.04" fill="#fd9497"/>
<rect x="707.37" y="279.56" width="23.07" height="23.04" fill="#f9747a"/>
<rect x="730.44" y="279.56" width="23.07" height="23.04" fill="#ffe2e5"/>
<rect x="753.51" y="279.56" width="23.07" height="23.04" fill="#fff8f8"/>
<rect x="799.65" y="279.56" width="23.07" height="23.04" fill="#ffe8ea"/>
<rect x="822.72" y="279.56" width="23.07" height="23.04" fill="#fd9497"/>
<rect x="707.37" y="302.60" width="23.07" height="23.04" fill="#f7686f"/>
<rect x="730.44" y="302.60" width="23.07" height="23.04" fill="#ffe4e7"/>
<rect x="753.51" y="302.60" width="23.07" height="23.04" fill="#fff8f8"/>
<rect x="799.65" y="302.60" width="23.07" height="23.04" fill="#ffeaec"/>
<rect x="822.72" y="302.60" width="23.07" height="23.04" fill="#fd9799"/>
<rect x="707.37" y="325.64" width="23.07" height="23.04" fill="#f56264"/>
<rect x="730.44" y="325.64" width="23.07" height="23.04" fill="#ffeaec"/>
<rect x="753.51" y="325.64" width="23.07" height="23.04" fill="#fffcfc"/>
<rect x="799.65" y="325.64" width="23.07" height="23.04" fill="#ffe8ea"/>
<rect x="822.72" y="325.64" width="23.07" height="23.04" fill="#fd9799"/>
<rect x="707.37" y="348.68" width="23.07" height="23.04" fill="#f9747a"/>
<rect x="730.44" y="348.68" width="23.07" height="23.04" fill="#ffe8ea"/>
<rect x="753.51" y="348.68" width="23.07" height="23.04" fill="#fffcfc"/>
<rect x="799.65" y="348.68" width="23.07" height="23.04" fill="#ffdcde"/>
<rect x="822.72" y="348.68" width="23.07" height="23.04" fill="#fd9b9e"/>
<rect x="707.37" y="371.72" width="23.07" height="23.04" fill="#f56062"/>
<rect x="730.44" y="371.72" width="23.07" height="23.04" fill="#ffe4e7"/>
<rect x="753.51" y="371.72" width="23.07" height="23.04" fill="#fffcfc"/>
<rect x="799.65" y="371.72" width="23.07" height="23.04" fill="#ffdcde"/>
<rect x="822.72" y="371.72" width="23.07" height="23.04" fill="#fea3a7"/>
<rect x="707.37" y="394.76" width="23.07" height="23.04" fill="#fb8084"/>
<rect x="730.44" y="394.76" width="23.07" height="23.04" fill="#fff0f2"/>
<rect x="753.51" y="394.76" width="23.07" height="23.04" fill="#fffefe"/>
<rect x="799.65" y="394.76" width="23.07" height="23.04" fill="#ffdcde"/>
<rect x="822.72" y="394.76" width="23.07" height="23.04" fill="#fb7c80"/>
<rect x="707.37" y="417.80" width="23.07" height="23.04" fill="#fb787c"/>
<rect x="730.44" y="417.80" width="23.07" height="23.04" fill="#ffecee"/>
<rect x="753.51" y="417.80" width="23.07" height="23.04" fill="#fffcfc"/>
<rect x="799.65" y="417.80" width="23.07" height="23.04" fill="#ffdfe2"/>
<rect x="822.72" y="417.80" width="23.07" height="23.04" fill="#fd9296"/>
<rect x="707.37" y="440.84" width="23.07" height="23.04" fill="#f97075"/>
<rect x="730.44" y="440.84" width="23.07" height="23.04" fill="#ffe8ea"/>
<rect x="753.51" y="440.84" width="23.07" height="23.04" fill="#fffefe"/>
<rect x="799.65" y="440.84" width="23.07" height="23.04" fill="#ffdfe2"/>
<rect x="822.72" y="440.84" width="23.07" height="23.04" fill="#fc888c"/>
<rect x="707.37" y="463.88" width="23.07" height="23.04" fill="#ffcdd1"/>
<rect x="730.44" y="463.88" width="23.07" height="23.04" fill="#fff0f2"/>
<rect x="753.51" y="463.88" width="23.07" height="23.04" fill="#fffafa"/>
<rect x="799.65" y="463.88" width="23.07" height="23.04" fill="#ffdfe2"/>
<rect x="822.72" y="463.88" width="23.07" height="23.04" fill="#e5392e"/>
<rect x="707.37" y="486.92" width="23.07" height="23.04" fill="#ffdadd"/>
<rect x="730.44" y="486.92" width="23.07" height="23.04" fill="#ffeef0"/>
<rect x="753.51" y="486.92" width="23.07" height="23.04" fill="#fffcfc"/>
<rect x="799.65" y="486.92" width="23.07" height="23.04" fill="#ffd2d6"/>
<rect x="822.72" y="486.92" width="23.07" height="23.04" fill="#e5392e"/>
<rect x="707.37" y="509.96" width="23.07" height="23.04" fill="#ffd6da"/>
<rect x="730.44" y="509.96" width="23.07" height="23.04" fill="#fff4f5"/>
<rect x="753.51" y="509.96" width="23.07" height="23.04" fill="#fffcfc"/>
<rect x="799.65" y="509.96" width="23.07" height="23.04" fill="#ffe0e3"/>
<rect x="822.72" y="509.96" width="23.07" height="23.04" fill="#e22e24"/>
<rect x="707.37" y="533.00" width="23.07" height="23.04" fill="#ffdadd"/>
<rect x="730.44" y="533.00" width="23.07" height="23.04" fill="#fff4f5"/>
<rect x="753.51" y="533.00" width="23.07" height="23.04" fill="#fffcfc"/>
<rect x="776.58" y="533.00" width="23.07" height="23.04" fill="#fffcfd"/>
<rect x="799.65" y="533.00" width="23.07" height="23.04" fill="#ffe0e3"/>
<rect x="822.72" y="533.00" width="23.07" height="23.04" fill="#e23226"/>
<rect x="707.37" y="556.04" width="23.07" height="23.04" fill="#ffe0e3"/>
<rect x="730.44" y="556.04" width="23.07" height="23.04" fill="#fffafa"/>
<rect x="753.51" y="556.04" width="23.07" height="23.04" fill="#fffcfc"/>
<rect x="799.65" y="556.04" width="23.07" height="23.04" fill="#ffe4e7"/>
<rect x="822.72" y="556.04" width="23.07" height="23.04" fill="#dc2a1b"/>
<rect x="707.37" y="579.08" width="23.07" height="23.04" fill="#ffbcc0"/>
<rect x="730.44" y="579.08" width="23.07" height="23.04" fill="#ffeef0"/>
<rect x="753.51" y="579.08" width="23.07" height="23.04" fill="#fffcfc"/>
<rect x="799.65" y="579.08" width="23.07" height="23.04" fill="#ffe0e3"/>
<rect x="822.72" y="579.08" width="23.07" height="23.04" fill="#e84440"/>
<rect x="707.37" y="602.12" width="23.07" height="23.04" fill="#ffb2b6"/>
<rect x="730.44" y="602.12" width="23.07" height="23.04" fill="#fff4f5"/>
<rect x="753.51" y="602.12" width="23.07" height="23.04" fill="#fffefe"/>
<rect x="799.65" y="602.12" width="23.07" height="23.04" fill="#ffe4e7"/>
<rect x="822.72" y="602.12" width="23.07" height="23.04" fill="#e6403a"/>
<rect x="707.37" y="625.16" width="23.07" height="23.04" fill="#feaaae"/>
<rect x="730.44" y="625.16" width="23.07" height="23.04" fill="#fff0f2"/>
<rect x="753.51" y="625.16" width="23.07" height="23.04" fill="#fffefe"/>
<rect x="799.65" y="625.16" width="23.07" height="23.04" fill="#ffe2e5"/>
<rect x="822.72" y="625.16" width="23.07" height="23.04" fill="#ea4a48"/>
<rect x="707.37" y="648.20" width="23.07" height="23.04" fill="#fd9498"/>
<rect x="730.44" y="648.20" width="23.07" height="23.04" fill="#fea3a8"/>
<rect x="753.51" y="648.20" width="23.07" height="23.04" fill="#ffc6ca"/>
<rect x="799.65" y="648.20" width="23.07" height="23.04" fill="#fff2f4"/>
<rect x="822.72" y="648.20" width="23.07" height="23.04" fill="#ffe0e4"/>
<rect x="707.37" y="671.24" width="23.07" height="23.04" fill="#fea7ab"/>
<rect x="730.44" y="671.24" width="23.07" height="23.04" fill="#feb0b4"/>
<rect x="753.51" y="671.24" width="23.07" height="23.04" fill="#ffc4c8"/>
<rect x="799.65" y="671.24" width="23.07" height="23.04" fill="#ffecef"/>
<rect x="822.72" y="671.24" width="23.07" height="23.04" fill="#ffc2c7"/>
<rect x="707.37" y="694.28" width="23.07" height="23.04" fill="#fea3a7"/>
<rect x="730.44" y="694.28" width="23.07" height="23.04" fill="#ffb8bc"/>
<rect x="753.51" y="694.28" width="23.07" height="23.04" fill="#ffc6ca"/>
<rect x="799.65" y="694.28" width="23.07" height="23.04" fill="#ffecef"/>
<rect x="822.72" y="694.28" width="23.07" height="23.04" fill="#ffbcc2"/>
<rect x="707.37" y="717.32" width="23.07" height="23.04" fill="#fc868a"/>
<rect x="730.44" y="717.32" width="23.07" height="23.04" fill="#ffb4b8"/>
<rect x="753.51" y="717.32" width="23.07" height="23.04" fill="#ffd6da"/>
<rect x="799.65" y="717.32" width="23.07" height="23.04" fill="#fff0f2"/>
<rect x="822.72" y="717.32" width="23.07" height="23.04" fill="#ffccd1"/>
<rect x="707.37" y="740.36" width="23.07" height="23.04" fill="#fc868a"/>
<rect x="730.44" y="740.36" width="23.07" height="23.04" fill="#ffbcc0"/>
<rect x="753.51" y="740.36" width="23.07" height="23.04" fill="#ffd8dc"/>
<rect x="799.65" y="740.36" width="23.07" height="23.04" fill="#fff2f4"/>
<rect x="822.72" y="740.36" width="23.07" height="23.04" fill="#ffccd1"/>
<rect x="707.37" y="763.40" width="23.07" height="23.04" fill="#fd9094"/>
<rect x="730.44" y="763.40" width="23.07" height="23.04" fill="#ffc2c6"/>
<rect x="753.51" y="763.40" width="23.07" height="23.04" fill="#ffd4d8"/>
<rect x="799.65" y="763.40" width="23.07" height="23.04" fill="#ffecef"/>
<rect x="822.72" y="763.40" width="23.07" height="23.04" fill="#ffc2c7"/>
<rect x="707.37" y="786.44" width="23.07" height="23.04" fill="#f96e73"/>
<rect x="730.44" y="786.44" width="23.07" height="23.04" fill="#ffe4e7"/>
<rect x="753.51" y="786.44" width="23.07" height="23.04" fill="#ffb2b7"/>
<rect x="776.58" y="786.44" width="23.07" height="23.04" fill="#ffd4d9"/>
<rect x="822.72" y="786.44" width="23.07" height="23.04" fill="#fffafa"/>
<rect x="684.30" y="809.48" width="23.07" height="23.04" fill="#dc2a1b"/>
<rect x="707.37" y="809.48" width="23.07" height="23.04" fill="#ffecef"/>
<rect x="822.72" y="809.48" width="23.07" height="23.04" fill="#fffafa"/>
<path d="M684.30 187.4V832.52M707.37 187.4V832.52M730.44 187.4V832.52M753.51 187.4V832.52M776.58 187.4V832.52M799.65 187.4V832.52M822.72 187.4V832.52M845.79 187.4V832.52M684.3 187.40H845.79M684.3 210.44H845.79M684.3 233.48H845.79M684.3 256.52H845.79M684.3 279.56H845.79M684.3 302.60H845.79M684.3 325.64H845.79M684.3 348.68H845.79M684.3 371.72H845.79M684.3 394.76H845.79M684.3 417.80H845.79M684.3 440.84H845.79M684.3 463.88H845.79M684.3 486.92H845.79M684.3 509.96H845.79M684.3 533.00H845.79M684.3 556.04H845.79M684.3 579.08H845.79M684.3 602.12H845.79M684.3 625.16H845.79M684.3 648.20H845.79M684.3 671.24H845.79M684.3 694.28H845.79M684.3 717.32H845.79M684.3 740.36H845.79M684.3 763.40H845.79M684.3 786.44H845.79M684.3 809.48H845.79M684.3 832.52H845.79" stroke="#111" stroke-width="1" fill="none"/>
<text x="699.1" y="186.2" font-size="16" fill="#1a1a1a" transform="rotate(-45 699.1 186.2)">Ergosterol</text>
<text x="722.2" y="186.2" font-size="16" fill="#1a1a1a" transform="rotate(-45 722.2 186.2)">Zymosterol</text>
<text x="745.2" y="186.2" font-size="16" fill="#1a1a1a" transform="rotate(-45 745.2 186.2)">Zymostenol, Lathosterol (major)</text>
<text x="768.3" y="186.2" font-size="16" fill="#1a1a1a" transform="rotate(-45 768.3 186.2)">7-Dehydrocholesterol</text>
<text x="791.4" y="186.2" font-size="16" fill="#1a1a1a" transform="rotate(-45 791.4 186.2)">Cholesterol</text>
<text x="814.4" y="186.2" font-size="16" fill="#1a1a1a" transform="rotate(-45 814.4 186.2)">Dehydrolathosterol (major)</text>
<text x="837.5" y="186.2" font-size="16" fill="#1a1a1a" transform="rotate(-45 837.5 186.2)">7-Dehydrodesmosterol</text>
<path d="M674 821.0H599.5V498.4H616.6M616.6 417.6V728.6H631M616.6 417.6H644.5M644.5 324.8V555.8H670M644.5 324.8H666.4M666.4 221.5V359.6M666.4 221.5H671.8M666.4 359.6H672.6M674 198.9H671.8V232.7H674M673.8 221V244.7M673.8 267.5V336.7M672.6 294V430M673.2 330V385M673.8 406V452.5M670 521V613.5M670 521H673M670 613.5H673M673 476V560M673 590V632M672.4 600V613.5M631 716.8V798.0H674M631 716.8H666.4M666.4 659.7V728.7M666.4 659.7H674M666.4 728.7H668.9M668.9 694.7V751.9M668.9 694.7H672.3M668.9 751.9H672.3M672.3 682.8V705.8M672.3 682.8H674M672.3 705.8H674M674 728.7V752M672.3 740.5V774.9H674M674 728.8V740" stroke="#000" stroke-width="1.2" fill="none"/>
<defs><linearGradient id="cb" x1="0" x2="1" y1="0" y2="0"><stop offset="0" stop-color="#ffffff"/><stop offset="0.35" stop-color="#f9a9aa"/><stop offset="0.75" stop-color="#e23b32"/><stop offset="1" stop-color="#d92b1c"/></linearGradient></defs>
<rect x="708.8" y="844.8" width="91.6" height="10" fill="url(#cb)" stroke="#111" stroke-width="1.7"/>
<text x="620" y="855" font-size="15" fill="#1a1a1a">% of sterol:</text>
<text x="711.8" y="871.5" font-size="14.4" text-anchor="middle" fill="#1a1a1a">0</text>
<text x="789" y="871.5" font-size="14.4" text-anchor="middle" fill="#1a1a1a">100</text>
<line x1="874.9" y1="186.5" x2="874.9" y2="783.5" stroke="#111" stroke-width="2.7"/>
<text x="865.3" y="735" font-size="16.1" fill="#1a1a1a" transform="rotate(-90 865.3 735)"><tspan font-style="italic">erg2/3/5/6</tspan><tspan dx="12.5"> + 1 copy human cholesterol biosynthesis pathway</tspan></text>
<text x="943.5" y="112.5" font-size="16.1" fill="#1a1a1a">Promoter Strength</text>
<line x1="936.8" y1="117.6" x2="1075.2" y2="117.6" stroke="#111" stroke-width="1.5"/>
<text x="902" y="181" font-size="16" font-style="italic" fill="#1a1a1a" transform="rotate(-45 902 181)">+DHCR24</text>
<text x="955" y="181" font-size="16" font-style="italic" fill="#1a1a1a" transform="rotate(-45 955 181)">+EBP</text>
<text x="1003" y="181" font-size="16" font-style="italic" fill="#1a1a1a" transform="rotate(-45 1003 181)">+SC5DL</text>
<text x="1069" y="152.3" font-size="16" fill="#1a1a1a"><tspan font-style="italic">pEC</tspan><tspan font-style="italic" font-size="16.5" dx="4" dy="7.6">50</tspan><tspan dy="-7.6" dx="1" font-size="16.8">(M)</tspan></text>
<text x="1044.6" y="175.6" font-size="16" text-anchor="middle" fill="#1a1a1a">5</text>
<line x1="1043.3" y1="180.4" x2="1043.3" y2="185" stroke="#111" stroke-width="2.4"/>
<text x="1083.6" y="175.6" font-size="16" text-anchor="middle" fill="#1a1a1a">6</text>
<line x1="1082.3" y1="180.4" x2="1082.3" y2="185" stroke="#111" stroke-width="2.4"/>
<text x="1122.6" y="175.6" font-size="16" text-anchor="middle" fill="#1a1a1a">7</text>
<line x1="1121.3" y1="180.4" x2="1121.3" y2="185" stroke="#111" stroke-width="2.4"/>
<text x="1161.6" y="175.6" font-size="16" text-anchor="middle" fill="#1a1a1a">8</text>
<line x1="1160.3" y1="180.4" x2="1160.3" y2="185" stroke="#111" stroke-width="2.4"/>
<line x1="1082.3" y1="185" x2="1082.3" y2="832" stroke="#7a5c44" stroke-width="1" stroke-dasharray="2 2.2"/>
<line x1="1121.3" y1="185" x2="1121.3" y2="832" stroke="#7a5c44" stroke-width="1" stroke-dasharray="2 2.2"/>
<line x1="1160.3" y1="185" x2="1160.3" y2="832" stroke="#7a5c44" stroke-width="1" stroke-dasharray="2 2.2"/>
<rect x="1035.3" y="189.2" width="46.2" height="19.2" fill="#3c8fc9"/>
<rect x="1035.3" y="212.3" width="72.0" height="19.2" fill="#3c8fc9"/>
<rect x="1035.3" y="235.3" width="33.3" height="19.2" fill="#3c8fc9"/>
<rect x="1035.3" y="258.3" width="41.5" height="19.2" fill="#3c8fc9"/>
<rect x="1035.3" y="281.4" width="47.0" height="19.2" fill="#3c8fc9"/>
<rect x="1035.3" y="304.4" width="56.4" height="19.2" fill="#3c8fc9"/>
<rect x="1035.3" y="327.5" width="47.0" height="19.2" fill="#3c8fc9"/>
<rect x="1035.3" y="350.5" width="66.5" height="19.2" fill="#3c8fc9"/>
<rect x="1035.3" y="373.5" width="61.4" height="19.2" fill="#3c8fc9"/>
<rect x="1035.3" y="396.6" width="50.9" height="19.2" fill="#3c8fc9"/>
<rect x="1035.3" y="419.6" width="54.8" height="19.2" fill="#3c8fc9"/>
<rect x="1035.3" y="442.7" width="54.0" height="19.2" fill="#3c8fc9"/>
<rect x="1035.3" y="465.7" width="50.1" height="19.2" fill="#3c8fc9"/>
<rect x="1035.3" y="488.7" width="51.7" height="19.2" fill="#3c8fc9"/>
<rect x="1035.3" y="511.8" width="50.9" height="19.2" fill="#3c8fc9"/>
<rect x="1035.3" y="534.8" width="57.1" height="19.2" fill="#3c8fc9"/>
<rect x="1035.3" y="557.9" width="54.8" height="19.2" fill="#3c8fc9"/>
<rect x="1035.3" y="580.9" width="56.0" height="19.2" fill="#3c8fc9"/>
<rect x="1035.3" y="603.9" width="57.9" height="19.2" fill="#3c8fc9"/>
<rect x="1035.3" y="627.0" width="54.4" height="19.2" fill="#3c8fc9"/>
<rect x="1035.3" y="650.0" width="28.7" height="19.2" fill="#3c8fc9"/>
<rect x="1035.3" y="673.1" width="30.6" height="19.2" fill="#3c8fc9"/>
<rect x="1035.3" y="696.1" width="43.5" height="19.2" fill="#3c8fc9"/>
<rect x="1035.3" y="719.1" width="31.4" height="19.2" fill="#3c8fc9"/>
<rect x="1035.3" y="742.2" width="40.8" height="19.2" fill="#3c8fc9"/>
<rect x="1035.3" y="765.2" width="38.8" height="19.2" fill="#3c8fc9"/>
<rect x="1035.3" y="788.3" width="125.4" height="19.2" fill="#3c8fc9"/>
<rect x="1035.3" y="811.3" width="15.0" height="19.2" fill="#3c8fc9"/>
<line x1="1082.3" y1="185" x2="1082.3" y2="832" stroke="#4a3626" stroke-opacity="0.85" stroke-width="1" stroke-dasharray="1.6 2.6"/>
<line x1="1121.3" y1="185" x2="1121.3" y2="832" stroke="#4a3626" stroke-opacity="0.85" stroke-width="1" stroke-dasharray="1.6 2.6"/>
<line x1="1160.3" y1="185" x2="1160.3" y2="832" stroke="#4a3626" stroke-opacity="0.85" stroke-width="1" stroke-dasharray="1.6 2.6"/>
<circle cx="1077.9" cy="198.6" r="2.2" fill="#1c1c1c" fill-opacity="0.68"/>
<circle cx="1083.8" cy="198.6" r="2.2" fill="#1c1c1c" fill-opacity="0.68"/>
<text x="1173.2" y="203.5" font-size="13.4" fill="#1a1a1a">5.98</text>
<text x="898.5" y="204.3" font-size="16" text-anchor="middle" fill="#1a1a1a">M</text>
<text x="949.3" y="204.3" font-size="16" text-anchor="middle" fill="#1a1a1a">L</text>
<text x="1002" y="204.3" font-size="16" text-anchor="middle" fill="#1a1a1a">-</text>
<circle cx="1104.7" cy="221.7" r="2.2" fill="#1c1c1c" fill-opacity="0.68"/>
<circle cx="1109.7" cy="221.7" r="2.2" fill="#1c1c1c" fill-opacity="0.68"/>
<text x="1173.2" y="226.6" font-size="13.4" fill="#1a1a1a">6.64</text>
<text x="898.5" y="227.4" font-size="16" text-anchor="middle" fill="#1a1a1a">L</text>
<text x="949.3" y="227.4" font-size="16" text-anchor="middle" fill="#1a1a1a">M</text>
<text x="1002" y="227.4" font-size="16" text-anchor="middle" fill="#1a1a1a">H</text>
<circle cx="1061.5" cy="244.7" r="2.2" fill="#1c1c1c" fill-opacity="0.68"/>
<circle cx="1082" cy="244.7" r="2.2" fill="#1c1c1c" fill-opacity="0.68"/>
<text x="1173.2" y="249.6" font-size="13.4" fill="#1a1a1a">5.65</text>
<text x="898.5" y="250.4" font-size="16" text-anchor="middle" fill="#1a1a1a">L</text>
<text x="949.3" y="250.4" font-size="16" text-anchor="middle" fill="#1a1a1a">M</text>
<text x="1002" y="250.4" font-size="16" text-anchor="middle" fill="#1a1a1a">-</text>
<circle cx="1073.5" cy="267.7" r="2.2" fill="#1c1c1c" fill-opacity="0.68"/>
<circle cx="1082" cy="267.7" r="2.2" fill="#1c1c1c" fill-opacity="0.68"/>
<text x="1173.2" y="272.6" font-size="13.4" fill="#1a1a1a">5.86</text>
<text x="898.5" y="273.4" font-size="16" text-anchor="middle" fill="#1a1a1a">M</text>
<text x="949.3" y="273.4" font-size="16" text-anchor="middle" fill="#1a1a1a">-</text>
<text x="1002" y="273.4" font-size="16" text-anchor="middle" fill="#1a1a1a">L</text>
<circle cx="1080.9" cy="290.8" r="2.2" fill="#1c1c1c" fill-opacity="0.68"/>
<circle cx="1084.4" cy="290.8" r="2.2" fill="#1c1c1c" fill-opacity="0.68"/>
<text x="1173.2" y="295.7" font-size="13.4" fill="#1a1a1a">6.00</text>
<text x="898.5" y="296.5" font-size="16" text-anchor="middle" fill="#1a1a1a">M</text>
<text x="949.3" y="296.5" font-size="16" text-anchor="middle" fill="#1a1a1a">-</text>
<text x="1002" y="296.5" font-size="16" text-anchor="middle" fill="#1a1a1a">-</text>
<circle cx="1088.2" cy="313.8" r="2.2" fill="#1c1c1c" fill-opacity="0.68"/>
<circle cx="1088.6" cy="313.8" r="2.2" fill="#1c1c1c" fill-opacity="0.68"/>
<circle cx="1094.7" cy="313.8" r="2.2" fill="#1c1c1c" fill-opacity="0.68"/>
<circle cx="1098.8" cy="313.8" r="2.2" fill="#1c1c1c" fill-opacity="0.68"/>
<text x="1173.2" y="318.7" font-size="13.4" fill="#1a1a1a">6.24</text>
<text x="898.5" y="319.5" font-size="16" text-anchor="middle" fill="#1a1a1a">M</text>
<text x="949.3" y="319.5" font-size="16" text-anchor="middle" fill="#1a1a1a">M</text>
<text x="1002" y="319.5" font-size="16" text-anchor="middle" fill="#1a1a1a">H</text>
<circle cx="1079.4" cy="336.9" r="2.2" fill="#1c1c1c" fill-opacity="0.68"/>
<circle cx="1085.9" cy="336.9" r="2.2" fill="#1c1c1c" fill-opacity="0.68"/>
<text x="1173.2" y="341.8" font-size="13.4" fill="#1a1a1a">6.00</text>
<text x="898.5" y="342.6" font-size="16" text-anchor="middle" fill="#1a1a1a">L</text>
<text x="949.3" y="342.6" font-size="16" text-anchor="middle" fill="#1a1a1a">H</text>
<text x="1002" y="342.6" font-size="16" text-anchor="middle" fill="#1a1a1a">-</text>
<circle cx="1100" cy="359.9" r="2.2" fill="#1c1c1c" fill-opacity="0.68"/>
<circle cx="1104.1" cy="359.9" r="2.2" fill="#1c1c1c" fill-opacity="0.68"/>
<text x="1173.2" y="364.8" font-size="13.4" fill="#1a1a1a">6.50</text>
<text x="898.5" y="365.6" font-size="16" text-anchor="middle" fill="#1a1a1a">L</text>
<text x="949.3" y="365.6" font-size="16" text-anchor="middle" fill="#1a1a1a">-</text>
<text x="1002" y="365.6" font-size="16" text-anchor="middle" fill="#1a1a1a">L</text>
<circle cx="1095.3" cy="382.9" r="2.2" fill="#1c1c1c" fill-opacity="0.68"/>
<circle cx="1098.8" cy="382.9" r="2.2" fill="#1c1c1c" fill-opacity="0.68"/>
<text x="1173.2" y="387.8" font-size="13.4" fill="#1a1a1a">6.37</text>
<text x="898.5" y="388.6" font-size="16" text-anchor="middle" fill="#1a1a1a">L</text>
<text x="949.3" y="388.6" font-size="16" text-anchor="middle" fill="#1a1a1a">-</text>
<text x="1002" y="388.6" font-size="16" text-anchor="middle" fill="#1a1a1a">-</text>
<circle cx="1084.1" cy="406.0" r="2.2" fill="#1c1c1c" fill-opacity="0.68"/>
<circle cx="1086.8" cy="406.0" r="2.2" fill="#1c1c1c" fill-opacity="0.68"/>
<circle cx="1088.8" cy="406.0" r="2.2" fill="#1c1c1c" fill-opacity="0.68"/>
<text x="1173.2" y="410.9" font-size="13.4" fill="#1a1a1a">6.10</text>
<text x="898.5" y="411.7" font-size="16" text-anchor="middle" fill="#1a1a1a">L</text>
<text x="949.3" y="411.7" font-size="16" text-anchor="middle" fill="#1a1a1a">L</text>
<text x="1002" y="411.7" font-size="16" text-anchor="middle" fill="#1a1a1a">L</text>
<circle cx="1087.6" cy="429.0" r="2.2" fill="#1c1c1c" fill-opacity="0.68"/>
<circle cx="1092.6" cy="429.0" r="2.2" fill="#1c1c1c" fill-opacity="0.68"/>
<text x="1173.2" y="433.9" font-size="13.4" fill="#1a1a1a">6.20</text>
<text x="898.5" y="434.7" font-size="16" text-anchor="middle" fill="#1a1a1a">L</text>
<text x="949.3" y="434.7" font-size="16" text-anchor="middle" fill="#1a1a1a">L</text>
<text x="1002" y="434.7" font-size="16" text-anchor="middle" fill="#1a1a1a">M</text>
<circle cx="1085.9" cy="452.1" r="2.2" fill="#1c1c1c" fill-opacity="0.68"/>
<circle cx="1092.9" cy="452.1" r="2.2" fill="#1c1c1c" fill-opacity="0.68"/>
<text x="1173.2" y="457.0" font-size="13.4" fill="#1a1a1a">6.18</text>
<text x="898.5" y="457.8" font-size="16" text-anchor="middle" fill="#1a1a1a">-</text>
<text x="949.3" y="457.8" font-size="16" text-anchor="middle" fill="#1a1a1a">-</text>
<text x="1002" y="457.8" font-size="16" text-anchor="middle" fill="#1a1a1a">M</text>
<circle cx="1085.3" cy="475.1" r="2.2" fill="#1c1c1c" fill-opacity="0.68"/>
<circle cx="1085.6" cy="475.1" r="2.2" fill="#1c1c1c" fill-opacity="0.68"/>
<text x="1173.2" y="480.0" font-size="13.4" fill="#1a1a1a">6.08</text>
<text x="898.5" y="480.8" font-size="16" text-anchor="middle" fill="#1a1a1a">L</text>
<text x="949.3" y="480.8" font-size="16" text-anchor="middle" fill="#1a1a1a">H</text>
<text x="1002" y="480.8" font-size="16" text-anchor="middle" fill="#1a1a1a">L</text>
<circle cx="1077" cy="498.1" r="2.2" fill="#1c1c1c" fill-opacity="0.68"/>
<circle cx="1111.8" cy="498.1" r="2.2" fill="#1c1c1c" fill-opacity="0.68"/>
<text x="1173.2" y="503.0" font-size="13.4" fill="#1a1a1a">6.12</text>
<text x="898.5" y="503.8" font-size="16" text-anchor="middle" fill="#1a1a1a">-</text>
<text x="949.3" y="503.8" font-size="16" text-anchor="middle" fill="#1a1a1a">L</text>
<text x="1002" y="503.8" font-size="16" text-anchor="middle" fill="#1a1a1a">L</text>
<circle cx="1073.2" cy="521.2" r="2.2" fill="#1c1c1c" fill-opacity="0.68"/>
<circle cx="1085.3" cy="521.2" r="2.2" fill="#1c1c1c" fill-opacity="0.68"/>
<circle cx="1096.5" cy="521.2" r="2.2" fill="#1c1c1c" fill-opacity="0.68"/>
<circle cx="1105.3" cy="521.2" r="2.2" fill="#1c1c1c" fill-opacity="0.68"/>
<text x="1173.2" y="526.1" font-size="13.4" fill="#1a1a1a">6.10</text>
<text x="898.5" y="526.9" font-size="16" text-anchor="middle" fill="#1a1a1a">-</text>
<text x="949.3" y="526.9" font-size="16" text-anchor="middle" fill="#1a1a1a">L</text>
<text x="1002" y="526.9" font-size="16" text-anchor="middle" fill="#1a1a1a">M</text>
<circle cx="1088.5" cy="544.2" r="2.2" fill="#1c1c1c" fill-opacity="0.68"/>
<circle cx="1097.9" cy="544.2" r="2.2" fill="#1c1c1c" fill-opacity="0.68"/>
<text x="1173.2" y="549.1" font-size="13.4" fill="#1a1a1a">6.26</text>
<text x="898.5" y="549.9" font-size="16" text-anchor="middle" fill="#1a1a1a">-</text>
<text x="949.3" y="549.9" font-size="16" text-anchor="middle" fill="#1a1a1a">M</text>
<text x="1002" y="549.9" font-size="16" text-anchor="middle" fill="#1a1a1a">-</text>
<circle cx="1086.2" cy="567.3" r="2.2" fill="#1c1c1c" fill-opacity="0.68"/>
<circle cx="1086.5" cy="567.3" r="2.2" fill="#1c1c1c" fill-opacity="0.68"/>
<circle cx="1091.2" cy="567.3" r="2.2" fill="#1c1c1c" fill-opacity="0.68"/>
<circle cx="1099.1" cy="567.3" r="2.2" fill="#1c1c1c" fill-opacity="0.68"/>
<text x="1173.2" y="572.2" font-size="13.4" fill="#1a1a1a">6.20</text>
<text x="898.5" y="573.0" font-size="16" text-anchor="middle" fill="#1a1a1a">-</text>
<text x="949.3" y="573.0" font-size="16" text-anchor="middle" fill="#1a1a1a">L</text>
<text x="1002" y="573.0" font-size="16" text-anchor="middle" fill="#1a1a1a">H</text>
<circle cx="1091.4" cy="590.3" r="2.2" fill="#1c1c1c" fill-opacity="0.68"/>
<circle cx="1091.8" cy="590.3" r="2.2" fill="#1c1c1c" fill-opacity="0.68"/>
<text x="1173.2" y="595.2" font-size="13.4" fill="#1a1a1a">6.23</text>
<text x="898.5" y="596.0" font-size="16" text-anchor="middle" fill="#1a1a1a">-</text>
<text x="949.3" y="596.0" font-size="16" text-anchor="middle" fill="#1a1a1a">-</text>
<text x="1002" y="596.0" font-size="16" text-anchor="middle" fill="#1a1a1a">L</text>
<circle cx="1089.8" cy="613.3" r="2.2" fill="#1c1c1c" fill-opacity="0.68"/>
<circle cx="1098" cy="613.3" r="2.2" fill="#1c1c1c" fill-opacity="0.68"/>
<text x="1173.2" y="618.2" font-size="13.4" fill="#1a1a1a">6.28</text>
<text x="898.5" y="619.0" font-size="16" text-anchor="middle" fill="#1a1a1a">-</text>
<text x="949.3" y="619.0" font-size="16" text-anchor="middle" fill="#1a1a1a">-</text>
<text x="1002" y="619.0" font-size="16" text-anchor="middle" fill="#1a1a1a">H</text>
<circle cx="1080.6" cy="636.4" r="2.2" fill="#1c1c1c" fill-opacity="0.68"/>
<circle cx="1085.4" cy="636.4" r="2.2" fill="#1c1c1c" fill-opacity="0.68"/>
<circle cx="1093.3" cy="636.4" r="2.2" fill="#1c1c1c" fill-opacity="0.68"/>
<circle cx="1099.9" cy="636.4" r="2.2" fill="#1c1c1c" fill-opacity="0.68"/>
<text x="1173.2" y="641.3" font-size="13.4" fill="#1a1a1a">6.19</text>
<circle cx="1061.9" cy="659.4" r="2.2" fill="#1c1c1c" fill-opacity="0.68"/>
<circle cx="1066.3" cy="659.4" r="2.2" fill="#1c1c1c" fill-opacity="0.68"/>
<text x="1173.2" y="664.3" font-size="13.4" fill="#1a1a1a">5.53</text>
<text x="898.5" y="665.1" font-size="16" text-anchor="middle" fill="#1a1a1a">H</text>
<text x="949.3" y="665.1" font-size="16" text-anchor="middle" fill="#1a1a1a">M</text>
<text x="1002" y="665.1" font-size="16" text-anchor="middle" fill="#1a1a1a">M</text>
<circle cx="1061.6" cy="682.5" r="2.2" fill="#1c1c1c" fill-opacity="0.68"/>
<circle cx="1072" cy="682.5" r="2.2" fill="#1c1c1c" fill-opacity="0.68"/>
<text x="1173.2" y="687.4" font-size="13.4" fill="#1a1a1a">5.58</text>
<text x="898.5" y="688.2" font-size="16" text-anchor="middle" fill="#1a1a1a">H</text>
<text x="949.3" y="688.2" font-size="16" text-anchor="middle" fill="#1a1a1a">M</text>
<text x="1002" y="688.2" font-size="16" text-anchor="middle" fill="#1a1a1a">L</text>
<circle cx="1078.4" cy="705.5" r="2.2" fill="#1c1c1c" fill-opacity="0.68"/>
<circle cx="1080.3" cy="705.5" r="2.2" fill="#1c1c1c" fill-opacity="0.68"/>
<text x="1173.2" y="710.4" font-size="13.4" fill="#1a1a1a">5.91</text>
<text x="898.5" y="711.2" font-size="16" text-anchor="middle" fill="#1a1a1a">H</text>
<text x="949.3" y="711.2" font-size="16" text-anchor="middle" fill="#1a1a1a">L</text>
<text x="1002" y="711.2" font-size="16" text-anchor="middle" fill="#1a1a1a">L</text>
<circle cx="1064.4" cy="728.5" r="2.2" fill="#1c1c1c" fill-opacity="0.68"/>
<circle cx="1069.2" cy="728.5" r="2.2" fill="#1c1c1c" fill-opacity="0.68"/>
<text x="1173.2" y="733.4" font-size="13.4" fill="#1a1a1a">5.60</text>
<text x="898.5" y="734.2" font-size="16" text-anchor="middle" fill="#1a1a1a">H</text>
<text x="949.3" y="734.2" font-size="16" text-anchor="middle" fill="#1a1a1a">-</text>
<text x="1002" y="734.2" font-size="16" text-anchor="middle" fill="#1a1a1a">-</text>
<circle cx="1073.3" cy="751.6" r="2.2" fill="#1c1c1c" fill-opacity="0.68"/>
<circle cx="1080" cy="751.6" r="2.2" fill="#1c1c1c" fill-opacity="0.68"/>
<text x="1173.2" y="756.5" font-size="13.4" fill="#1a1a1a">5.84</text>
<text x="898.5" y="757.3" font-size="16" text-anchor="middle" fill="#1a1a1a">H</text>
<text x="949.3" y="757.3" font-size="16" text-anchor="middle" fill="#1a1a1a">H</text>
<text x="1002" y="757.3" font-size="16" text-anchor="middle" fill="#1a1a1a">M</text>
<circle cx="1074.3" cy="774.6" r="2.2" fill="#1c1c1c" fill-opacity="0.68"/>
<circle cx="1074.6" cy="774.6" r="2.2" fill="#1c1c1c" fill-opacity="0.68"/>
<text x="1173.2" y="779.5" font-size="13.4" fill="#1a1a1a">5.79</text>
<text x="898.5" y="780.3" font-size="16" text-anchor="middle" fill="#1a1a1a">H</text>
<text x="949.3" y="780.3" font-size="16" text-anchor="middle" fill="#1a1a1a">L</text>
<text x="1002" y="780.3" font-size="16" text-anchor="middle" fill="#1a1a1a">-</text>
<circle cx="1158.8" cy="797.7" r="2.2" fill="#1c1c1c" fill-opacity="0.68"/>
<circle cx="1163.6" cy="797.7" r="2.2" fill="#1c1c1c" fill-opacity="0.68"/>
<text x="1173.2" y="802.6" font-size="13.4" fill="#1a1a1a">8.01</text>
<circle cx="1043.2" cy="820.7" r="2.2" fill="#1c1c1c" fill-opacity="0.68"/>
<circle cx="1063.2" cy="820.7" r="2.2" fill="#1c1c1c" fill-opacity="0.68"/>
<text x="1173.2" y="825.6" font-size="13.4" fill="#1a1a1a">5.18</text>
<text x="947.6" y="641.7" font-size="16" text-anchor="middle" fill="#1a1a1a">no cassette</text>
<text x="850.6" y="803.3" font-size="16.25" fill="#1a1a1a">Cholesterol Producing-2</text>
<text x="850.6" y="829.6" font-size="16.25" fill="#1a1a1a">Wild Type</text>
<path d="M1033 832V184.5H1169" stroke="#222" stroke-width="1.8" fill="none"/>
</g>
</svg>
</body></html>
